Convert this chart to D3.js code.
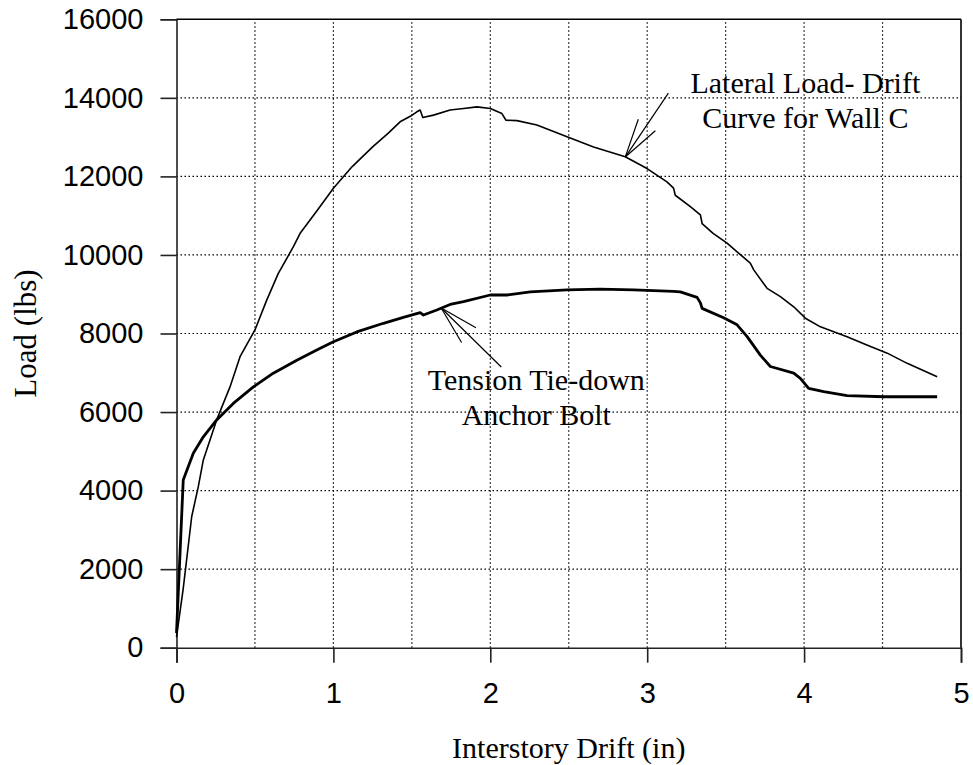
<!DOCTYPE html>
<html>
<head>
<meta charset="utf-8">
<script src="https://cdn.jsdelivr.net/npm/d3@7"></script>
<style>
  body { margin: 0; background: #fff; }
  svg { display: block; }
</style>
</head>
<body>
<div id="chart"></div>
<script>
// lateral load - drift curve for wall C (thin line)
const wallDrift = [0, 0.043, 0.097, 0.139, 0.171, 0.256, 0.341, 0.405, 0.5, 0.575, 0.649, 0.745, 0.788,
  0.9, 1.0, 1.12, 1.25, 1.35, 1.425, 1.49, 1.532, 1.553, 1.570, 1.638, 1.744, 1.83, 1.915, 2.0, 2.074, 2.1,
  2.17, 2.297, 2.489, 2.658, 2.86, 2.999, 3.126, 3.168, 3.179, 3.275, 3.339, 3.35, 3.42, 3.509, 3.573,
  3.657, 3.679, 3.764, 3.849, 3.934, 4.008, 4.104, 4.274, 4.40, 4.53, 4.657, 4.848];
const wallLoad = [270, 1510, 3340, 4100, 4780, 5800, 6640, 7410, 8090, 8850, 9530, 10210, 10550,
  11150, 11700, 12250, 12750, 13100, 13390, 13530, 13645, 13690, 13500, 13560, 13690, 13730, 13770, 13730, 13600, 13430,
  13420, 13310, 13010, 12750, 12500, 12200, 11860, 11700, 11520, 11230, 11020, 10800, 10550, 10300, 10080,
  9790, 9620, 9150, 8940, 8680, 8390, 8170, 7920, 7710, 7500, 7240, 6900];

// tension tie-down anchor bolt (thick line)
const tieDrift = [0, 0.043, 0.107, 0.171, 0.256, 0.362, 0.49, 0.617, 0.767, 0.894, 1.0, 1.149, 1.319,
  1.446, 1.553, 1.574, 1.659, 1.744, 1.829, 2.0, 2.106, 2.255, 2.489, 2.70, 2.913, 3.168, 3.211, 3.318,
  3.339, 3.35, 3.487, 3.573, 3.637, 3.721, 3.785, 3.934, 3.976, 4.029, 4.125, 4.274, 4.508, 4.848];
const tieLoad = [370, 4270, 4950, 5370, 5800, 6220, 6640, 6990, 7320, 7580, 7790, 8040, 8260,
  8410, 8530, 8470, 8600, 8740, 8810, 8980, 8980, 9060, 9110, 9130, 9110, 9070, 9060, 8920,
  8780, 8640, 8400, 8220, 7920, 7450, 7160, 6990, 6860, 6600, 6520, 6420, 6390, 6390];

const xTicks = [0, 1, 2, 3, 4, 5];
const xGrid = [0.5, 1, 1.5, 2, 2.5, 3, 3.5, 4, 4.5];
const yTicks = [0, 2000, 4000, 6000, 8000, 10000, 12000, 14000, 16000];
const yGrid = [2000, 4000, 6000, 8000, 10000, 12000, 14000];

// annotations: label anchor, arrow tip and tail, in data units
const notes = [
  {lines: ["Lateral Load- Drift", "Curve for Wall C"], at: [4.008, 14122], tip: [2.860, 12492], tail: [3.135, 14122]},
  {lines: ["Tension Tie-down", "Anchor Bolt"], at: [2.293, 6560], tip: [1.687, 8648], tail: [2.070, 7146]}
];

const W = 973, H = 765;
const margin = {top: 19.3, right: 12, bottom: 117.3, left: 176.5};
const serif = "'Liberation Serif', 'Times New Roman', serif";
const sans = "'Liberation Sans', Arial, sans-serif";

const svg = d3.select("#chart").append("svg")
  .attr("width", W)
  .attr("height", H);

const x = d3.scaleLinear().domain([0, 5]).range([margin.left, W - margin.right]);
const y = d3.scaleLinear().domain([0, 16000]).range([H - margin.bottom, margin.top]);

// dotted grid
svg.append("g").selectAll("line").data(xGrid).enter().append("line")
  .attr("x1", d => x(d)).attr("x2", d => x(d))
  .attr("y1", y(0)).attr("y2", y(16000))
  .attr("stroke", "#000").attr("stroke-width", 1.2)
  .attr("stroke-dasharray", "1.5,2.5");

svg.append("g").selectAll("line").data(yGrid).enter().append("line")
  .attr("y1", d => y(d)).attr("y2", d => y(d))
  .attr("x1", x(0)).attr("x2", x(5))
  .attr("stroke", "#000").attr("stroke-width", 1.2)
  .attr("stroke-dasharray", "1.5,2.5");

// axes
let xAxis = svg.append("g")
  .attr("transform", "translate(0," + y(0) + ")")
  .call(d3.axisBottom(x).tickValues(xTicks).tickFormat(d3.format("d")).tickSize(15).tickPadding(20));

let yAxis = svg.append("g")
  .attr("transform", "translate(" + x(0) + ",0)")
  .call(d3.axisLeft(y).tickValues(yTicks).tickFormat(d3.format("d")).tickSize(16).tickPadding(17));

[xAxis, yAxis].forEach(function (a) {
  a.select(".domain").attr("stroke", "#222").attr("stroke-width", 1.6);
  a.selectAll(".tick line").attr("stroke", "#222").attr("stroke-width", 1.6);
  a.selectAll(".tick text")
    .attr("fill", "#000")
    .style("font-family", sans)
    .style("font-size", "29px");
});
xAxis.selectAll(".tick text").attr("dy", "0.71em");

// top and right frame
svg.append("line")
  .attr("x1", x(0)).attr("x2", x(5)).attr("y1", y(16000)).attr("y2", y(16000))
  .attr("stroke", "#000").attr("stroke-width", 1.6);
svg.append("line")
  .attr("x1", x(5)).attr("x2", x(5)).attr("y1", y(16000)).attr("y2", y(0))
  .attr("stroke", "#000").attr("stroke-width", 1.6);

// curves
const line = d3.line()
  .x(d => x(d[0]))
  .y(d => y(d[1]));

svg.append("path")
  .datum(d3.zip(wallDrift, wallLoad))
  .attr("d", line)
  .attr("fill", "none")
  .attr("stroke", "#000")
  .attr("stroke-width", 1.6)
  .attr("stroke-linejoin", "round");

svg.append("path")
  .datum(d3.zip(tieDrift, tieLoad))
  .attr("d", line)
  .attr("fill", "none")
  .attr("stroke", "#000")
  .attr("stroke-width", 2.8)
  .attr("stroke-linejoin", "round");

// annotations with open arrowheads
notes.forEach(function (n) {
  let tx = x(n.tip[0]), ty = y(n.tip[1]);
  let ex = x(n.tail[0]), ey = y(n.tail[1]);
  svg.append("line")
    .attr("x1", ex).attr("y1", ey).attr("x2", tx).attr("y2", ty)
    .attr("stroke", "#000").attr("stroke-width", 1.2);
  let ang = Math.atan2(ey - ty, ex - tx);
  [-0.26, 0.26].forEach(function (da) {
    svg.append("line")
      .attr("x1", tx).attr("y1", ty)
      .attr("x2", tx + 40 * Math.cos(ang + da))
      .attr("y2", ty + 40 * Math.sin(ang + da))
      .attr("stroke", "#000").attr("stroke-width", 1.2);
  });
  let t = svg.append("text")
    .attr("x", x(n.at[0]))
    .attr("y", y(n.at[1]))
    .attr("text-anchor", "middle")
    .style("font-family", serif)
    .style("font-size", "30px");
  n.lines.forEach(function (s, i) {
    t.append("tspan")
      .attr("x", x(n.at[0]))
      .attr("dy", i === 0 ? 0 : 35)
      .text(s);
  });
});

// axis titles
svg.append("text")
  .attr("x", (x(0) + x(5)) / 2)
  .attr("y", 758)
  .attr("text-anchor", "middle")
  .style("font-family", serif)
  .style("font-size", "30px")
  .text("Interstory Drift (in)");

svg.append("text")
  .attr("transform", "translate(36," + ((y(0) + y(16000)) / 2) + ") rotate(-90)")
  .attr("text-anchor", "middle")
  .style("font-family", serif)
  .style("font-size", "31px")
  .text("Load (lbs)");
</script>
</body>
</html>
